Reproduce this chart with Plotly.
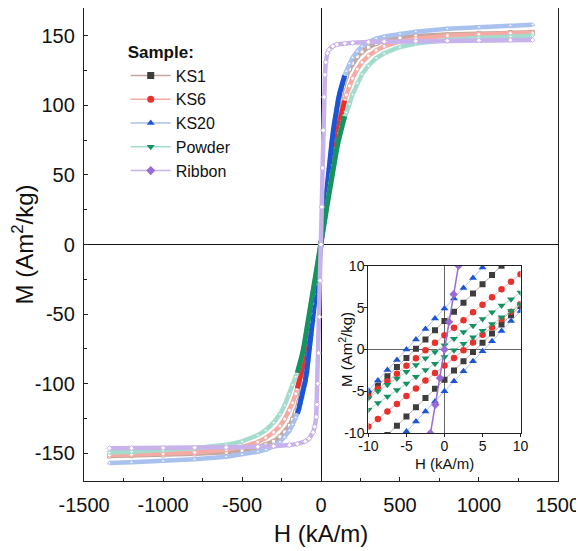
import plotly.graph_objects as go

# ---------------- data ----------------
samples = ["KS1", "KS6", "KS20", "Powder", "Ribbon"]

# main loop (field sweep +1340 -> -1340 kA/m), composite samples share one H grid
h_main = [1340, 1200, 1000, 800, 600, 500, 400, 350, 300, 260, 230, 200, 180, 160,
          150, 140, 130, 120, 110, 100, 90, 80, 70, 60, 50, 40, 30, 20, 10, 0,
          -10, -20, -30, -40, -50, -60, -70, -80, -90, -100, -110, -120, -130, -140, -150,
          -160, -180, -200, -230, -260, -300, -350, -400, -500, -600, -800, -1000, -1200, -1340]

m_ks1 = [152.5, 152.3, 151.8, 151.0, 149.8, 148.5, 146.3, 144.5, 141.8, 138.5, 135.0, 130.3, 126.0, 120.6,
         117.3, 113.5, 109.0, 103.8, 97.8, 91.0, 83.5, 75.4, 66.8, 57.8, 48.5, 39.0, 29.4, 19.6, 9.8, 0.0,
         -9.7, -19.4, -29.1, -38.7, -48.2, -57.5, -66.5, -75.1, -83.2, -90.7, -97.5, -103.5, -108.7, -113.2, -117.0,
         -120.3, -125.7, -130.0, -134.7, -138.2, -141.5, -144.0, -145.8, -148.0, -149.3, -150.5, -151.3, -151.8, -152.0]

m_ks6 = [152.0, 151.7, 151.0, 150.0, 148.0, 146.0, 142.5, 139.5, 135.5, 131.0, 126.0, 119.5, 114.0, 107.5,
         103.5, 99.5, 95.0, 90.0, 84.3, 78.0, 71.2, 64.0, 56.5, 48.7, 40.8, 32.7, 24.6, 16.4, 8.2, 0.0,
         -8.2, -16.4, -24.6, -32.7, -40.8, -48.7, -56.5, -64.0, -71.2, -78.0, -84.3, -90.0, -95.0, -99.5, -103.5,
         -107.3, -113.8, -119.2, -125.5, -130.5, -135.0, -139.0, -142.0, -145.5, -147.5, -149.5, -150.5, -151.0, -151.3]

m_ks20 = [158.0, 157.3, 156.3, 155.0, 153.0, 151.5, 149.5, 148.0, 145.5, 142.5, 139.0, 134.3, 130.0, 124.7,
          121.5, 118.0, 114.0, 109.5, 104.5, 98.5, 91.5, 83.6, 74.8, 65.2, 55.0, 44.4, 33.5, 22.4, 11.2, 0.0,
          -11.0, -22.0, -33.0, -44.0, -54.5, -64.8, -74.5, -83.3, -91.3, -98.3, -104.3, -109.5, -114.0, -118.0, -121.5,
          -124.5, -129.5, -133.8, -138.5, -142.0, -145.0, -147.5, -149.0, -151.0, -152.5, -154.3, -155.6, -156.5, -157.0]

m_powder = [150.0, 149.5, 148.5, 147.0, 144.5, 142.0, 137.5, 134.0, 128.5, 122.5, 116.0, 108.0, 101.0, 95.0,
            92.3, 88.6, 84.4, 79.7, 74.5, 68.9, 62.9, 56.6, 50.0, 43.2, 36.2, 29.1, 21.9, 14.6, 7.3, 0.0,
            -7.3, -14.6, -21.9, -29.1, -36.2, -43.2, -50.0, -56.6, -62.9, -68.9, -74.5, -79.7, -84.4, -88.6, -92.3,
            -95.0, -100.8, -107.5, -115.5, -122.0, -128.0, -133.5, -137.0, -141.5, -144.0, -146.5, -148.0, -149.0, -149.5]

h_ribbon = [1340, 1200, 1000, 800, 600, 400, 300, 200, 150, 100, 75, 50, 40, 30, 25, 20, 15, 10, 5, 0,
            -5, -10, -15, -20, -25, -30, -40, -50, -75, -100, -150, -200, -300, -400, -600, -800, -1000, -1200, -1340]
m_ribbon = [147.0, 146.9, 146.7, 146.5, 146.2, 145.8, 145.5, 145.0, 144.5, 143.8, 142.5, 140.0, 137.5, 131.0,
            122.0, 106.0, 82.0, 55.0, 27.0, 0.0,
            -26.0, -52.0, -78.0, -100.0, -115.0, -124.0, -131.0, -135.0, -139.5, -141.5, -143.3, -144.2, -145.0,
            -145.4, -145.8, -146.0, -146.2, -146.4, -146.5]

# inset: low-field detail, upper (descending) and lower (ascending) branches
h_inset = [-10, -8.75, -7.5, -6.25, -5, -3.75, -2.5, -1.25, 0, 1.25, 2.5, 3.75, 5, 6.25, 7.5, 8.75, 10]
ks1_up = [-5.4, -4.3, -3.2, -2.1, -1.0, 0.1, 1.2, 2.3, 3.4, 4.5, 5.6, 6.7, 7.8, 8.9, 10.0, 11.1, 12.2]
ks1_lo = [-12.4, -11.3, -10.2, -9.1, -8.0, -6.9, -5.8, -4.7, -3.6, -2.5, -1.4, -0.3, 0.8, 1.9, 3.0, 4.1, 5.2]
ks6_up = [-5.6, -4.7, -3.8, -2.9, -1.95, -1.05, -0.1, 0.8, 1.7, 2.6, 3.5, 4.45, 5.35, 6.25, 7.2, 8.1, 9.0]
ks6_lo = [-9.2, -8.3, -7.4, -6.5, -5.55, -4.65, -3.7, -2.8, -1.9, -1.0, -0.1, 0.85, 1.75, 2.65, 3.6, 4.5, 5.4]
ks20_up = [-4.9, -3.7, -2.45, -1.25, 0.0, 1.2, 2.45, 3.7, 4.9, 6.1, 7.35, 8.55, 9.8, 11.0, 12.25, 13.5, 14.7]
ks20_lo = [-14.6, -13.4, -12.2, -11.0, -9.8, -8.6, -7.4, -6.2, -5.0, -3.8, -2.6, -1.4, -0.2, 1.0, 2.2, 3.4, 4.6]
powder_up = [-5.8, -5.0, -4.2, -3.45, -2.65, -1.85, -1.05, -0.3, 0.5, 1.3, 2.1, 2.85, 3.65, 4.45, 5.25, 6.0, 6.8]
powder_lo = [-7.2, -6.4, -5.6, -4.85, -4.05, -3.25, -2.45, -1.7, -0.9, -0.1, 0.7, 1.45, 2.25, 3.05, 3.85, 4.6, 5.4]
h_ribbon_inset = [-2.5, -1.85, -1.2, -0.6, 0.0, 0.6, 1.2, 1.85, 2.5]
m_ribbon_inset = [-13.6, -10.0, -6.6, -3.4, 0.0, 3.3, 6.6, 10.0, 13.6]

x_ticks_main = [-1500, -1000, -500, 0, 500, 1000, 1500]
x_labels_main = ["-1500", "-1000", "-500", "0", "500", "1000", "1500"]
y_ticks_main = [-150, -100, -50, 0, 50, 100, 150]
y_labels_main = ["-150", "-100", "-50", "0", "50", "100", "150"]
ticks_inset = [-10, -5, 0, 5, 10]
labels_inset = ["-10", "-5", "0", "5", "10"]

# ---------------- styles ----------------
FONT = "Liberation Sans, Arial, sans-serif"
style = {
    "KS1":    dict(dark="#3d3d3d", light="#c4a79f", symbol="square", isz=6),
    "KS6":    dict(dark="#e8302c", light="#f6aaa4", symbol="circle", isz=6.5),
    "KS20":   dict(dark="#1b55d6", light="#a9c1ee", symbol="triangle-up", isz=7),
    "Powder": dict(dark="#159260", light="#a3dccd", symbol="triangle-down", isz=7),
    "Ribbon": dict(dark="#9a6ad6", light="#c8b2ec", symbol="diamond", isz=6.5),
}
main_data = {"KS1": (h_main, m_ks1), "KS6": (h_main, m_ks6), "KS20": (h_main, m_ks20),
             "Powder": (h_main, m_powder), "Ribbon": (h_ribbon, m_ribbon)}
inset_data = {"KS1": [ks1_up, ks1_lo], "KS6": [ks6_up, ks6_lo], "KS20": [ks20_up, ks20_lo],
              "Powder": [powder_up, powder_lo]}

fig = go.Figure()

# main plot curves
for s in samples:
    st = style[s]
    hx, my = main_data[s]
    fig.add_trace(go.Scatter(
        x=hx, y=my, mode="lines+markers", showlegend=False,
        line=dict(color=st["light"], width=4.5),
        marker=dict(symbol=st["symbol"], size=4, color="white",
                    line=dict(color=st["light"], width=1)),
        hoverinfo="skip"))
    if s not in ("KS1", "Ribbon"):
        cx = [h for h in hx if abs(h) <= 150]
        cy = [m for h, m in zip(hx, my) if abs(h) <= 150]
        fig.add_trace(go.Scatter(x=cx, y=cy, mode="lines", showlegend=False,
                                 line=dict(color=st["dark"], width=5), hoverinfo="skip"))

# legend entries
for s in samples:
    st = style[s]
    fig.add_trace(go.Scatter(
        x=[None], y=[None], mode="lines+markers", name=s,
        line=dict(color=st["light"], width=1.5),
        marker=dict(symbol=st["symbol"], size=7, color=st["dark"])))

# inset curves
for s in ["KS1", "KS6", "KS20", "Powder"]:
    st = style[s]
    for branch in inset_data[s]:
        fig.add_trace(go.Scatter(
            x=h_inset, y=branch, mode="lines+markers", showlegend=False,
            xaxis="x2", yaxis="y2",
            line=dict(color=st["light"], width=1),
            marker=dict(symbol=st["symbol"], size=st["isz"], color=st["dark"]),
            hoverinfo="skip"))
fig.add_trace(go.Scatter(
    x=h_ribbon_inset, y=m_ribbon_inset, mode="lines+markers", showlegend=False,
    xaxis="x2", yaxis="y2",
    line=dict(color=style["Ribbon"]["dark"], width=1.5),
    marker=dict(symbol="diamond", size=style["Ribbon"]["isz"], color=style["Ribbon"]["dark"]),
    hoverinfo="skip"))

axis_common = dict(showgrid=False, showline=True, mirror=True, linecolor="#222",
                   linewidth=1.3, automargin=False)

# the page body has an 8 px margin, so the figure is sized 8 px smaller
fig.update_layout(
    width=576, height=543,
    margin=dict(l=76, r=26, t=0, b=70),
    paper_bgcolor="white", plot_bgcolor="white",
    font=dict(family=FONT, color="#111"),
    xaxis=dict(domain=[0, 1], range=[-1501, 1501], tickmode="array",
               tickvals=x_ticks_main, ticktext=x_labels_main,
               ticks="inside", ticklen=4, tickcolor="#222",
               minor=dict(ticks="inside", ticklen=3, dtick=250, tick0=0, tickcolor="#222"),
               zeroline=True, zerolinecolor="#111", zerolinewidth=1.3,
               tickfont=dict(size=20), ticklabelstandoff=6,
               title=dict(text="H (kA/m)", font=dict(size=24), standoff=10),
               **axis_common),
    yaxis=dict(domain=[0, 1], range=[-170, 170], tickmode="array",
               tickvals=y_ticks_main, ticktext=y_labels_main,
               ticks="inside", ticklen=4, tickcolor="#222",
               minor=dict(ticks="inside", ticklen=3, dtick=25, tick0=0, tickcolor="#222"),
               zeroline=True, zerolinecolor="#111", zerolinewidth=1.3,
               tickfont=dict(size=20), ticklabelstandoff=4,
               title=dict(text="M (Am<sup>2</sup>/kg)", font=dict(size=24), standoff=6),
               **axis_common),
    xaxis2=dict(domain=[0.600, 0.921], anchor="y2", range=[-10, 10], tickmode="array",
                tickvals=ticks_inset, ticktext=labels_inset,
                ticks="outside", ticklen=3, tickcolor="#222",
                zeroline=True, zerolinecolor="#666", zerolinewidth=1,
                tickfont=dict(size=14), ticklabelstandoff=-3,
                **axis_common),
    yaxis2=dict(domain=[0.101, 0.455], anchor="x2", range=[-10, 10], tickmode="array",
                tickvals=ticks_inset, ticktext=labels_inset,
                ticks="outside", ticklen=3, tickcolor="#222",
                zeroline=True, zerolinecolor="#666", zerolinewidth=1,
                tickfont=dict(size=14), ticklabelstandoff=-3,
                **axis_common),
    legend=dict(x=0.088, y=0.94, xanchor="left", yanchor="top",
                bgcolor="rgba(0,0,0,0)", borderwidth=0,
                font=dict(size=16, color="#111"),
                title=dict(text="<b>Sample:</b>", font=dict(size=17, color="#111")),
                itemwidth=40, tracegroupgap=0),
    annotations=[
        dict(text="H (kA/m)", xref="x2 domain", yref="y2 domain", x=0.5, y=0, yshift=-30,
             xanchor="center", yanchor="middle", showarrow=False, font=dict(size=15)),
        dict(text="M (Am<sup>2</sup>/kg)", xref="x2 domain", yref="y2 domain", x=0, y=0.5,
             xshift=-23, textangle=-90, xanchor="center", yanchor="middle",
             showarrow=False, font=dict(size=15)),
    ],
)

fig.write_html("out.html")
